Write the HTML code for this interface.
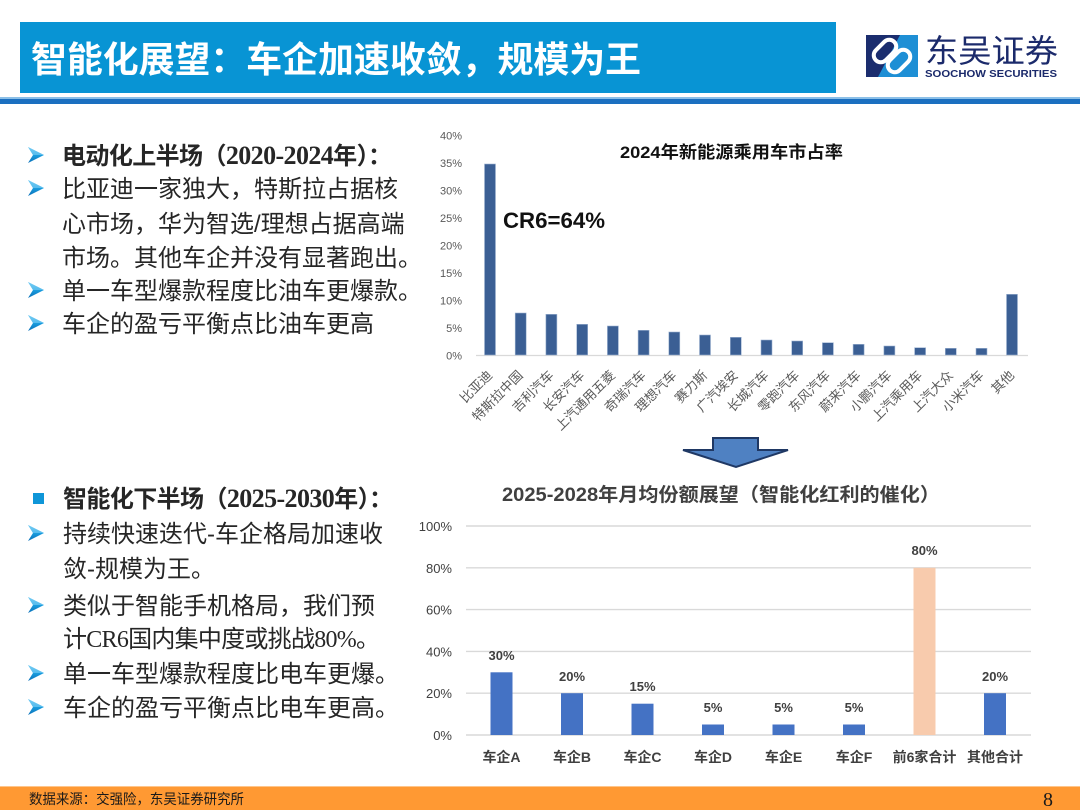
<!DOCTYPE html>
<html><head><meta charset="utf-8"><style>
html,body{margin:0;padding:0;background:#fff;}
svg{display:block;}
.s{font-family:"Liberation Sans","Noto Sans CJK SC",sans-serif;}
.r{font-family:"Liberation Serif","Noto Serif CJK SC",serif;}
</style></head><body>
<svg width="1080" height="810" viewBox="0 0 1080 810" xmlns="http://www.w3.org/2000/svg">
<defs>
<linearGradient id="ab" x1="0" y1="0" x2="0" y2="1">
<stop offset="0" stop-color="#5cc0f0"/><stop offset="0.5" stop-color="#1a9ee0"/><stop offset="1" stop-color="#0a6fb8"/>
</linearGradient>
<symbol id="arr" viewBox="0 0 16 16">
<polygon points="0,0 16,8 0,16 5,8" fill="url(#ab)"/>
<polygon points="0,0 16,8 5,8" fill="#7fd0f5" opacity="0.6"/>
</symbol>
</defs>
<rect width="1080" height="810" fill="#fff"/>
<!-- header -->
<rect x="20" y="22" width="816" height="71" fill="#0894d4"/>
<text x="31" y="72" class="s" font-size="36" font-weight="bold" fill="#fff" textLength="610" lengthAdjust="spacingAndGlyphs">智能化展望：车企加速收敛，规模为王</text>
<rect x="0" y="97" width="1080" height="2" fill="#8cc0e8"/>
<rect x="0" y="99" width="1080" height="5" fill="#1b6fc0"/>
<!-- logo -->
<g>
<rect x="866" y="35" width="52" height="42" fill="#1b2d6e"/>
<polygon points="900,35 918,35 918,77 878,77" fill="#1e8fd5"/>
<rect x="872" y="44" width="26" height="14" rx="7" transform="rotate(-45 885 51)" fill="none" stroke="#fff" stroke-width="4"/>
<rect x="886" y="54" width="26" height="14" rx="7" transform="rotate(-45 899 61)" fill="none" stroke="#fff" stroke-width="4"/>
</g>
<text x="925" y="62" class="s" font-size="32" fill="#1b2a6b" textLength="133" lengthAdjust="spacingAndGlyphs">东吴证券</text>
<text x="925" y="77" class="s" font-size="10.5" font-weight="bold" fill="#1b2a6b" textLength="132" lengthAdjust="spacingAndGlyphs">SOOCHOW SECURITIES</text>

<!-- left text section 1 -->
<g class="s" font-size="24" fill="#262626">
<use href="#arr" x="28" y="147" width="16" height="16"/>
<text x="62" y="164" font-weight="bold" textLength="330" lengthAdjust="spacing">电动化上半场（<tspan class="r" font-size="26">2020-2024</tspan>年）：</text>
<use href="#arr" x="28" y="180" width="16" height="16"/>
<text x="62" y="197">比亚迪一家独大，特斯拉占据核</text>
<text x="62" y="232">心市场，华为智选/理想占据高端</text>
<text x="62" y="266">市场。其他车企并没有显著跑出。</text>
<use href="#arr" x="28" y="282" width="16" height="16"/>
<text x="62" y="299">单一车型爆款程度比油车更爆款。</text>
<use href="#arr" x="28" y="315" width="16" height="16"/>
<text x="62" y="332">车企的盈亏平衡点比油车更高</text>
</g>

<!-- left text section 2 -->
<g class="s" font-size="24" fill="#262626">
<rect x="33" y="493" width="11" height="11" fill="#0f96d8"/>
<text x="63" y="507" font-weight="bold" textLength="330" lengthAdjust="spacing">智能化下半场（<tspan class="r" font-size="26">2025-2030</tspan>年）：</text>
<use href="#arr" x="28" y="525" width="16" height="16"/>
<text x="63" y="542">持续快速迭代-车企格局加速收</text>
<text x="63" y="577">敛-规模为王。</text>
<use href="#arr" x="28" y="597" width="16" height="16"/>
<text x="63" y="614">类似于智能手机格局，我们预</text>
<text x="63" y="647" textLength="317" lengthAdjust="spacing">计<tspan class="r">CR6</tspan>国内集中度或挑战<tspan class="r">80%</tspan>。</text>
<use href="#arr" x="28" y="665" width="16" height="16"/>
<text x="63" y="682">单一车型爆款程度比电车更爆。</text>
<use href="#arr" x="28" y="699" width="16" height="16"/>
<text x="63" y="716">车企的盈亏平衡点比电车更高。</text>
</g>

<!-- top chart -->
<g class="s" font-size="11" fill="#595959" text-anchor="end">
<text x="462" y="139.5">40%</text>
<text x="462" y="167">35%</text>
<text x="462" y="194.5">30%</text>
<text x="462" y="222">25%</text>
<text x="462" y="249.5">20%</text>
<text x="462" y="277">15%</text>
<text x="462" y="304.5">10%</text>
<text x="462" y="332">5%</text>
<text x="462" y="359.5">0%</text>
</g>
<line x1="476" y1="355.5" x2="1028" y2="355.5" stroke="#d9d9d9" stroke-width="1.2"/>
<g fill="#3b5f94" stroke="#9fb4d2" stroke-width="0.6">
<rect x="484.5" y="164" width="11" height="191"/>
<rect x="515.2" y="313" width="11" height="42"/>
<rect x="545.9" y="314.3" width="11" height="40.7"/>
<rect x="576.7" y="324.3" width="11" height="30.7"/>
<rect x="607.4" y="326" width="11" height="29"/>
<rect x="638.1" y="330.3" width="11" height="24.7"/>
<rect x="668.8" y="332" width="11" height="23"/>
<rect x="699.5" y="335" width="11" height="20"/>
<rect x="730.3" y="337.3" width="11" height="17.7"/>
<rect x="761" y="340" width="11" height="15"/>
<rect x="791.7" y="341" width="11" height="14"/>
<rect x="822.4" y="342.7" width="11" height="12.3"/>
<rect x="853.1" y="344.3" width="11" height="10.7"/>
<rect x="883.9" y="346" width="11" height="9"/>
<rect x="914.6" y="347.7" width="11" height="7.3"/>
<rect x="945.3" y="348.3" width="11" height="6.7"/>
<rect x="976" y="348.3" width="11" height="6.7"/>
<rect x="1006.5" y="294.3" width="11" height="60.7"/>
</g>
<text x="620" y="158" class="s" font-size="17" font-weight="bold" fill="#111" textLength="223" lengthAdjust="spacingAndGlyphs">2024年新能源乘用车市占率</text>
<text x="503" y="228" class="s" font-size="22" font-weight="bold" fill="#111" textLength="102" lengthAdjust="spacingAndGlyphs">CR6=64%</text>
<g class="s" font-size="13" fill="#595959" text-anchor="end">
<text transform="translate(493,376) rotate(-45)">比亚迪</text>
<text transform="translate(523.7,376) rotate(-45)">特斯拉中国</text>
<text transform="translate(554.4,376) rotate(-45)">吉利汽车</text>
<text transform="translate(585.2,376) rotate(-45)">长安汽车</text>
<text transform="translate(615.9,376) rotate(-45)">上汽通用五菱</text>
<text transform="translate(646.6,376) rotate(-45)">奇瑞汽车</text>
<text transform="translate(677.3,376) rotate(-45)">理想汽车</text>
<text transform="translate(708,376) rotate(-45)">赛力斯</text>
<text transform="translate(738.8,376) rotate(-45)">广汽埃安</text>
<text transform="translate(769.5,376) rotate(-45)">长城汽车</text>
<text transform="translate(800.2,376) rotate(-45)">零跑汽车</text>
<text transform="translate(830.9,376) rotate(-45)">东风汽车</text>
<text transform="translate(861.6,376) rotate(-45)">蔚来汽车</text>
<text transform="translate(892.4,376) rotate(-45)">小鹏汽车</text>
<text transform="translate(923.1,376) rotate(-45)">上汽乘用车</text>
<text transform="translate(953.8,376) rotate(-45)">上汽大众</text>
<text transform="translate(984.5,376) rotate(-45)">小米汽车</text>
<text transform="translate(1015,376) rotate(-45)">其他</text>
</g>

<!-- down arrow -->
<polygon points="713,438 758,438 758,450 788,450 736,467 683,450 713,450" fill="#4f81c2" stroke="#1f3864" stroke-width="2" stroke-linejoin="miter"/>

<!-- bottom chart -->
<text x="502" y="501" class="s" font-size="19" font-weight="bold" fill="#404040" textLength="438" lengthAdjust="spacingAndGlyphs">2025-2028年月均份额展望（智能化红利的催化）</text>
<g stroke="#d9d9d9" stroke-width="1.4">
<line x1="466" y1="526" x2="1031" y2="526"/>
<line x1="466" y1="567.8" x2="1031" y2="567.8"/>
<line x1="466" y1="609.6" x2="1031" y2="609.6"/>
<line x1="466" y1="651.4" x2="1031" y2="651.4"/>
<line x1="466" y1="693.2" x2="1031" y2="693.2"/>
<line x1="466" y1="735" x2="1031" y2="735"/>
</g>
<g class="s" font-size="13" fill="#404040" text-anchor="end">
<text x="452" y="531">100%</text>
<text x="452" y="572.8">80%</text>
<text x="452" y="614.6">60%</text>
<text x="452" y="656.4">40%</text>
<text x="452" y="698.2">20%</text>
<text x="452" y="740">0%</text>
</g>
<g fill="#4472c4">
<rect x="490.5" y="672.3" width="22" height="62.7"/>
<rect x="561" y="693.2" width="22" height="41.8"/>
<rect x="631.5" y="703.7" width="22" height="31.3"/>
<rect x="702" y="724.5" width="22" height="10.5"/>
<rect x="772.5" y="724.5" width="22" height="10.5"/>
<rect x="843" y="724.5" width="22" height="10.5"/>
<rect x="913.5" y="567.8" width="22" height="167.2" fill="#f8cbad"/>
<rect x="984" y="693.2" width="22" height="41.8"/>
</g>
<g class="s" font-size="13" font-weight="bold" fill="#404040" text-anchor="middle">
<text x="501.5" y="660">30%</text>
<text x="572" y="681">20%</text>
<text x="642.5" y="691">15%</text>
<text x="713" y="712">5%</text>
<text x="783.5" y="712">5%</text>
<text x="854" y="712">5%</text>
<text x="924.5" y="555">80%</text>
<text x="995" y="681">20%</text>
</g>
<g class="s" font-size="14" font-weight="bold" fill="#404040" text-anchor="middle">
<text x="501.5" y="762">车企A</text>
<text x="572" y="762">车企B</text>
<text x="642.5" y="762">车企C</text>
<text x="713" y="762">车企D</text>
<text x="783.5" y="762">车企E</text>
<text x="854" y="762">车企F</text>
<text x="924.5" y="762">前6家合计</text>
<text x="995" y="762">其他合计</text>
</g>

<!-- footer -->
<rect x="0" y="786" width="1080" height="1" fill="#ffc58a"/>
<rect x="0" y="787" width="1080" height="23" fill="#ff9933"/>
<text x="29" y="804" class="s" font-size="14" fill="#1a1a1a" textLength="215" lengthAdjust="spacingAndGlyphs">数据来源：交强险，东吴证券研究所</text>
<text x="1048" y="806" class="r" font-size="20" fill="#1a1a1a" text-anchor="middle">8</text>
</svg>
</body></html>
